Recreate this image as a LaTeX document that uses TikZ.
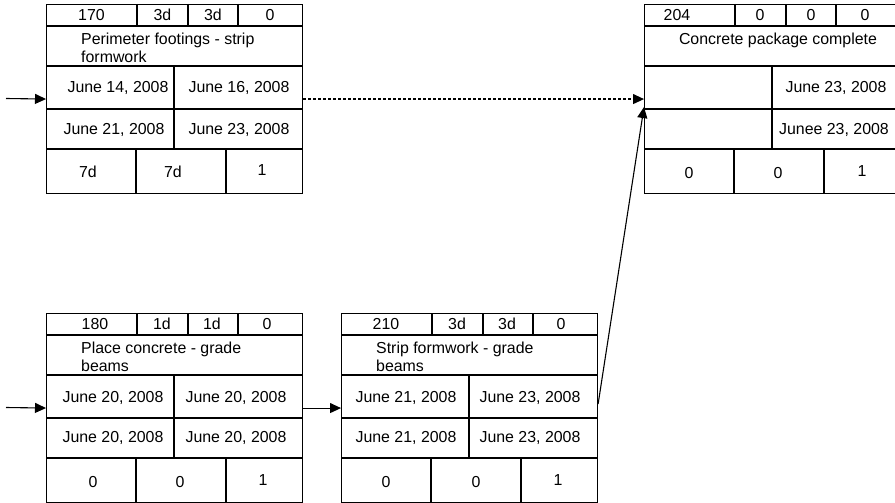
\documentclass[tikz,border=0pt]{standalone}
\usepackage{fontspec}
\setmainfont{Liberation Sans}
\usetikzlibrary{arrows.meta}
\tikzset{
  boxframe/.style={draw, line width=1.1pt, minimum width=256pt, minimum height=189pt, inner sep=0pt, anchor=north west},
  gridline/.style={line width=1.1pt},
  txt/.style={inner sep=0pt, font=\fontsize{15.9}{18}\selectfont, text height=11.3pt, text depth=0pt},
  ttl/.style={txt, anchor=west},
  conn/.style={line width=1.1pt, -{Triangle[length=11pt,width=10pt]}},
  dotconn/.style={conn, dash pattern=on 3pt off 2pt},
}
\newcommand\actgrid{%
  \draw[gridline] (0,-22) -- (256,-22) (0,-62) -- (256,-62) (0,-105) -- (256,-105) (0,-145) -- (256,-145);
  \draw[gridline] (91,0) -- (91,-22) (142,0) -- (142,-22) (192,0) -- (192,-22);
  \draw[gridline] (128,-62) -- (128,-145);
  \draw[gridline] (90,-145) -- (90,-189) (180,-145) -- (180,-189);
}
\begin{document}
\begin{tikzpicture}[x=1pt,y=1pt]
\useasboundingbox (0,0) rectangle (895,-503);
\clip (0,0) rectangle (895,-503);

% Box 1
\begin{scope}[shift={(46,-4)}]
  \node[boxframe] (b1) at (0,0) {};
  \actgrid
  \node[txt] (b1h1) at (45.5,-11) {170};
  \node[txt] (b1h2) at (116.5,-11) {3d};
  \node[txt] (b1h3) at (167,-11) {3d};
  \node[txt] (b1h4) at (224,-11) {0};
  \node[ttl] (b1t1) at (35,-35) {Perimeter footings - strip};
  \node[ttl] (b1t2) at (35,-53) {formwork};
  \node[txt] (b1d1) at (72,-83) {June 14, 2008};
  \node[txt] (b1d2) at (193,-83) {June 16, 2008};
  \node[txt] (b1d3) at (68,-125) {June 21, 2008};
  \node[txt] (b1d4) at (193,-125) {June 23, 2008};
  \node[txt] (b1f1) at (42,-168) {7d};
  \node[txt] (b1f2) at (127,-168) {7d};
  \node[txt] (b1f3) at (216,-166) {1};
\end{scope}

% Box 2
\begin{scope}[shift={(644,-4)}]
  \node[boxframe] (b2) at (0,0) {};
  \actgrid
  \node[txt] (b2h1) at (33,-11) {204};
  \node[txt] (b2h2) at (116,-11) {0};
  \node[txt] (b2h3) at (167,-11) {0};
  \node[txt] (b2h4) at (221,-11) {0};
  \node[txt] (b2t1) at (134,-35) {Concrete package complete};
  \node[txt] (b2d2) at (192,-83) {June 23, 2008};
  \node[txt] (b2d4) at (190,-125) {Junee 23, 2008};
  \node[txt] (b2f1) at (45,-169) {0};
  \node[txt] (b2f2) at (134,-169) {0};
  \node[txt] (b2f3) at (218,-167) {1};
\end{scope}

% Box 3
\begin{scope}[shift={(46,-313)}]
  \node[boxframe] (b3) at (0,0) {};
  \actgrid
  \node[txt] (b3h1) at (49,-11) {180};
  \node[txt] (b3h2) at (116,-11) {1d};
  \node[txt] (b3h3) at (166,-11) {1d};
  \node[txt] (b3h4) at (221,-11) {0};
  \node[ttl] (b3t1) at (35,-35) {Place concrete - grade};
  \node[ttl] (b3t2) at (35,-53) {beams};
  \node[txt] (b3d1) at (67,-84) {June 20, 2008};
  \node[txt] (b3d2) at (190,-84) {June 20, 2008};
  \node[txt] (b3d3) at (67,-124) {June 20, 2008};
  \node[txt] (b3d4) at (190,-124) {June 20, 2008};
  \node[txt] (b3f1) at (47,-169) {0};
  \node[txt] (b3f2) at (134,-169) {0};
  \node[txt] (b3f3) at (217,-167) {1};
\end{scope}

% Box 4
\begin{scope}[shift={(341,-313)}]
  \node[boxframe] (b4) at (0,0) {};
  \actgrid
  \node[txt] (b4h1) at (45,-11) {210};
  \node[txt] (b4h2) at (116,-11) {3d};
  \node[txt] (b4h3) at (166,-11) {3d};
  \node[txt] (b4h4) at (220,-11) {0};
  \node[ttl] (b4t1) at (35,-35) {Strip formwork - grade};
  \node[ttl] (b4t2) at (35,-53) {beams};
  \node[txt] (b4d1) at (65,-84) {June 21, 2008};
  \node[txt] (b4d2) at (189,-84) {June 23, 2008};
  \node[txt] (b4d3) at (65,-124) {June 21, 2008};
  \node[txt] (b4d4) at (189,-124) {June 23, 2008};
  \node[txt] (b4f1) at (45,-169) {0};
  \node[txt] (b4f2) at (135,-169) {0};
  \node[txt] (b4f3) at (217,-167) {1};
\end{scope}

% Connectors
\coordinate (in1) at (6,-98.5);
\coordinate (in3) at (6,-407.5);
\draw[conn] (in1) -- (b1.west);
\draw[dotconn] (b1.east) -- (b2.west);
\draw[conn] (in3) -- (b3.west);
\draw[conn] (b3.east) -- (b4.west);
\draw[conn] ([yshift=4pt]b4.east) -- ([yshift=-8pt]b2.west);
\end{tikzpicture}
\end{document}
